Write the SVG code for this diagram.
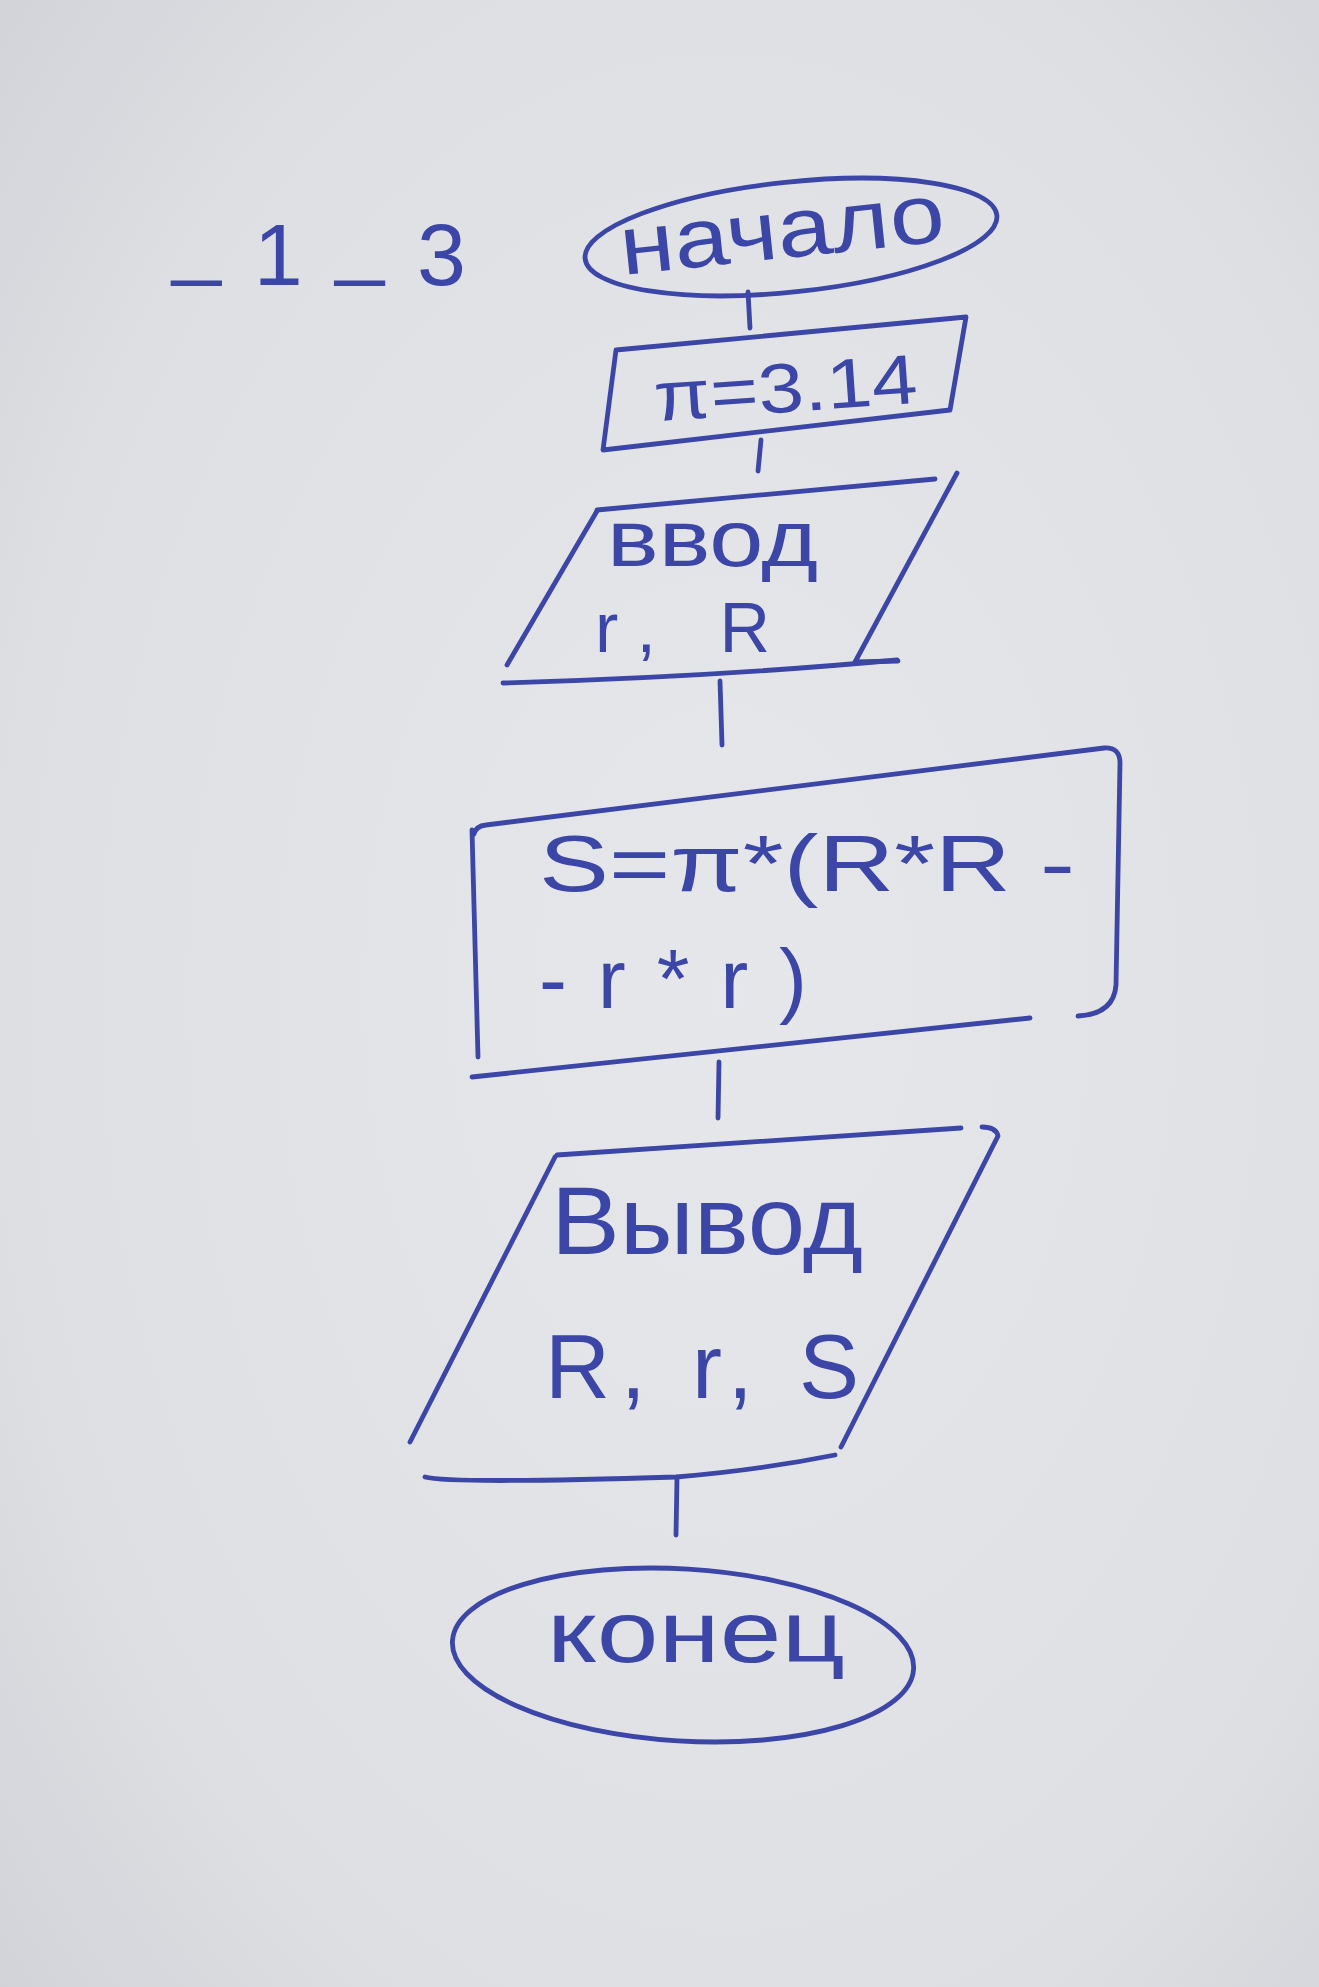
<svg xmlns="http://www.w3.org/2000/svg" width="1319" height="1987" viewBox="0 0 1319 1987">
<defs>
<radialGradient id="paper" cx="0.55" cy="0.5" r="0.75">
<stop offset="0" stop-color="#e6e7eb"/>
<stop offset="0.7" stop-color="#dfe0e4"/>
<stop offset="1" stop-color="#d2d3d8"/>
</radialGradient>
<style>
.ink{fill:none;stroke:#3b46a6;stroke-width:4.8;stroke-linecap:round;stroke-linejoin:round}
.t{fill:#3b46a6;font-family:"Liberation Sans","DejaVu Sans",sans-serif}
</style>
</defs>
<rect width="1319" height="1987" fill="url(#paper)"/>

<g id="label">
<text class="t" x="172" y="285" font-size="88" textLength="294" lengthAdjust="spacing"><tspan dy="-16">_</tspan><tspan dy="16">1</tspan><tspan dy="-16">_</tspan><tspan dy="16">3</tspan></text>
</g>

<g id="start">
<ellipse class="ink" cx="791" cy="237" rx="207" ry="55" transform="rotate(-6 791 237)"/>
<text class="t" x="783" y="258" font-size="84" text-anchor="middle" textLength="326" lengthAdjust="spacingAndGlyphs" transform="rotate(-6 783 240)">начало</text>
</g>

<g id="pi">
<path class="ink" d="M616,350 L966,317 L950,410 L603,450 Z"/>
<text class="t" x="786" y="412" font-size="70" text-anchor="middle" textLength="264" lengthAdjust="spacingAndGlyphs" transform="rotate(-4 786 395)">π=3.14</text>
</g>

<g id="input">
<path class="ink" d="M597,510 L935,479"/>
<path class="ink" d="M957,473 L855,662 L898,661"/>
<path class="ink" d="M597,511 L507,665"/>
<path class="ink" d="M503,683 Q713,677 897,660"/>
<text class="t" x="607" y="566" font-size="80" textLength="211" lengthAdjust="spacingAndGlyphs">ввод</text>
<text class="t" x="595" y="652" font-size="70" textLength="175" lengthAdjust="spacing">r, R</text>
</g>

<g id="process">
<path class="ink" d="M474,834 Q476,826 486,825 L1104,748 Q1120,747 1120,763 L1116,985 Q1114,1014 1078,1016"/>
<path class="ink" d="M472,830 L478,1057"/>
<path class="ink" d="M472,1077 L1030,1018"/>
<text class="t" x="539" y="891" font-size="80" textLength="536" lengthAdjust="spacingAndGlyphs">S=π*(R*R -</text>
<text class="t" x="539" y="1008" font-size="84" textLength="268" lengthAdjust="spacing">-r*r)</text>
</g>

<g id="output">
<path class="ink" d="M557,1155 L961,1128"/>
<path class="ink" d="M982,1127 Q996,1127 998,1136 L841,1447"/>
<path class="ink" d="M555,1157 L410,1442"/>
<path class="ink" d="M425,1477 Q450,1484 676,1477 Q760,1470 835,1455"/>
<text class="t" x="551" y="1254" font-size="96" textLength="312" lengthAdjust="spacingAndGlyphs">Вывод</text>
<text class="t" x="545" y="1398" font-size="90" textLength="314" lengthAdjust="spacing">R, r, S</text>
</g>

<g id="end">
<ellipse class="ink" cx="683" cy="1655" rx="231" ry="86" transform="rotate(3.5 683 1655)"/>
<text class="t" x="547" y="1662" font-size="88" textLength="298" lengthAdjust="spacingAndGlyphs">конец</text>
</g>

<g id="connectors">
<line class="ink" x1="748" y1="292" x2="750" y2="328"/>
<line class="ink" x1="761" y1="440" x2="758" y2="471"/>
<line class="ink" x1="720" y1="681" x2="722" y2="745"/>
<line class="ink" x1="719" y1="1062" x2="718" y2="1118"/>
<line class="ink" x1="677" y1="1478" x2="676" y2="1535"/>
</g>
</svg>
